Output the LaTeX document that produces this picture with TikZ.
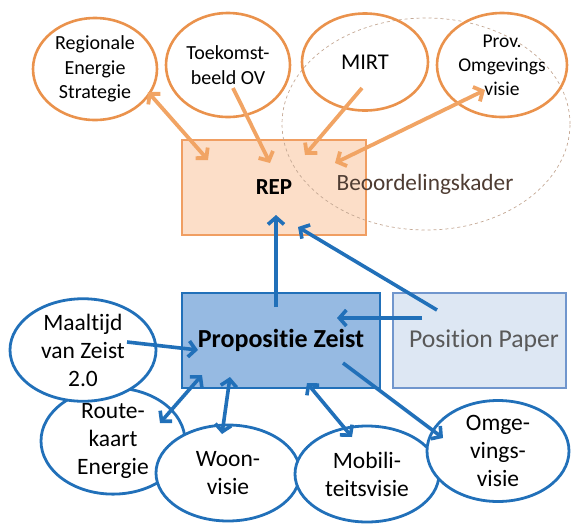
\documentclass[tikz,border=0pt]{standalone}
\usepackage{fontspec}
\setmainfont{Carlito}[Ligatures=NoCommon]
\usetikzlibrary{shapes.geometric,arrows.meta}
\definecolor{orr}{RGB}{234,146,76}
\definecolor{orarr}{RGB}{241,164,100}
\definecolor{repfill}{RGB}{252,222,200}
\definecolor{repdraw}{RGB}{240,158,98}
\definecolor{dashc}{RGB}{196,168,148}
\definecolor{beotext}{RGB}{78,60,50}
\definecolor{blu}{RGB}{33,112,185}
\definecolor{propfill}{RGB}{150,186,226}
\definecolor{ppfill}{RGB}{221,231,243}
\definecolor{ppdraw}{RGB}{112,150,205}
\definecolor{pptext}{RGB}{89,89,89}
\begin{document}
\begin{tikzpicture}[x=1pt,y=-1pt,
  oell/.style={ellipse,draw=orr,line width=2.6pt,inner sep=0pt,align=center,font=\fontsize{20}{24.5}\selectfont},
  bell/.style={ellipse,draw=blu,fill=white,line width=2.8pt,inner sep=0pt,align=center,font=\fontsize{23.5}{28}\selectfont},
  oarr/.style={draw=orarr,line width=3.8pt,-{Straight Barb[length=7pt,width=16pt]}},
  oarrb/.style={draw=orarr,line width=3.8pt,{Straight Barb[length=7pt,width=16pt]}-{Straight Barb[length=7pt,width=16pt]}},
  barr/.style={draw=blu,line width=3.6pt,-{Straight Barb[length=7pt,width=16pt]}},
  barrb/.style={draw=blu,line width=3.6pt,{Straight Barb[length=7pt,width=16pt]}-{Straight Barb[length=7pt,width=16pt]}},
  box/.style={rectangle,inner sep=0pt,line width=2.8pt}
]
\useasboundingbox (0,0) rectangle (571,523);

% ---- top part ----
\node[box,fill=repfill,draw=repdraw,minimum width=184pt,minimum height=95pt,font=\fontsize{23}{24}\selectfont\bfseries] (rep) at (274,187.5) {REP};
\node[ellipse,draw=dashc,dashed,line width=0.7pt,minimum width=288pt,minimum height=212pt,inner sep=0pt] (kader) at (426,124) {};
\node[text=beotext,font=\fontsize{23.3}{26}\selectfont,inner sep=0pt] (beo) at (425,184) {Beoordelingskader};

\node[oell,minimum width=124pt,minimum height=102pt] (res) at (95,69) {Regionale\\Energie\\Strategie};
\node[oell,minimum width=124pt,minimum height=104pt] (tov) at (228,65) {Toekomst-\\beeld OV};
\node[oell,minimum width=126pt,minimum height=97pt,font=\fontsize{22.5}{26}\selectfont] (mirt) at (365,62) {MIRT};
\node[oell,minimum width=130pt,minimum height=104pt,font=\fontsize{19.5}{24}\selectfont] (pov) at (502,65) {Prov.\\Omgevings\\visie};

\coordinate (resA) at (148,92);
\coordinate (resB) at (208,160);
\coordinate (tovA) at (233,88);
\coordinate (tovB) at (270,163);
\coordinate (mirtA) at (362,88);
\coordinate (mirtB) at (305,155);
\coordinate (povA) at (485,90);
\coordinate (povB) at (335,163);
\draw[oarrb] (resA) -- (resB);
\draw[oarr] (tovA) -- (tovB);
\draw[oarr] (mirtA) -- (mirtB);
\draw[oarrb] (povA) -- (povB);

% ---- bottom part ----
\node[box,fill=ppfill,draw=ppdraw,line width=2.4pt,minimum width=173pt,minimum height=95pt,text=pptext,font=\fontsize{25.7}{28}\selectfont] (pp) at (479.5,340.5) {\hspace*{9pt}Position Paper};
\node[box,fill=propfill,draw=blu,minimum width=198pt,minimum height=95pt,font=\fontsize{26}{28}\selectfont\bfseries] (prop) at (281,340.5) {Propositie Zeist};

\node[bell,minimum width=144pt,minimum height=98pt] (route) at (113,441) {Route-\\kaart\\Energie};
\node[bell,minimum width=146pt,minimum height=100pt] (maal) at (83,350) {Maaltijd\\van Zeist\\2.0};
\node[bell,minimum width=144pt,minimum height=96pt] (woon) at (228,473) {Woon-\\visie};
\node[bell,minimum width=144pt,minimum height=96pt] (mob) at (367,474) {Mobili-\\teitsvisie};
\node[bell,minimum width=142pt,minimum height=98pt] (omg) at (498,451) {Omge-\\vings-\\visie};

\coordinate (propTop) at (276,307);
\coordinate (repIn) at (276,215);
\coordinate (ppA) at (437,310);
\coordinate (ppB) at (298,227);
\coordinate (ppC) at (422,318);
\coordinate (ppD) at (337,318);
\coordinate (maalA) at (127,342);
\coordinate (maalB) at (198,350);
\coordinate (routeA) at (160,423);
\coordinate (routeB) at (202,375);
\coordinate (woonA) at (230,377);
\coordinate (woonB) at (222,434);
\coordinate (mobA) at (307,383);
\coordinate (mobB) at (352,437);
\coordinate (omgA) at (343,363);
\coordinate (omgB) at (443,438);

\draw[barr] (propTop) -- (repIn);
\draw[barr] (ppA) -- (ppB);
\draw[barr] (ppC) -- (ppD);
\draw[barr] (maalA) -- (maalB);
\draw[barrb] (routeA) -- (routeB);
\draw[barrb] (woonA) -- (woonB);
\draw[barrb] (mobA) -- (mobB);
\draw[barr] (omgA) -- (omgB);
\end{tikzpicture}
\end{document}
